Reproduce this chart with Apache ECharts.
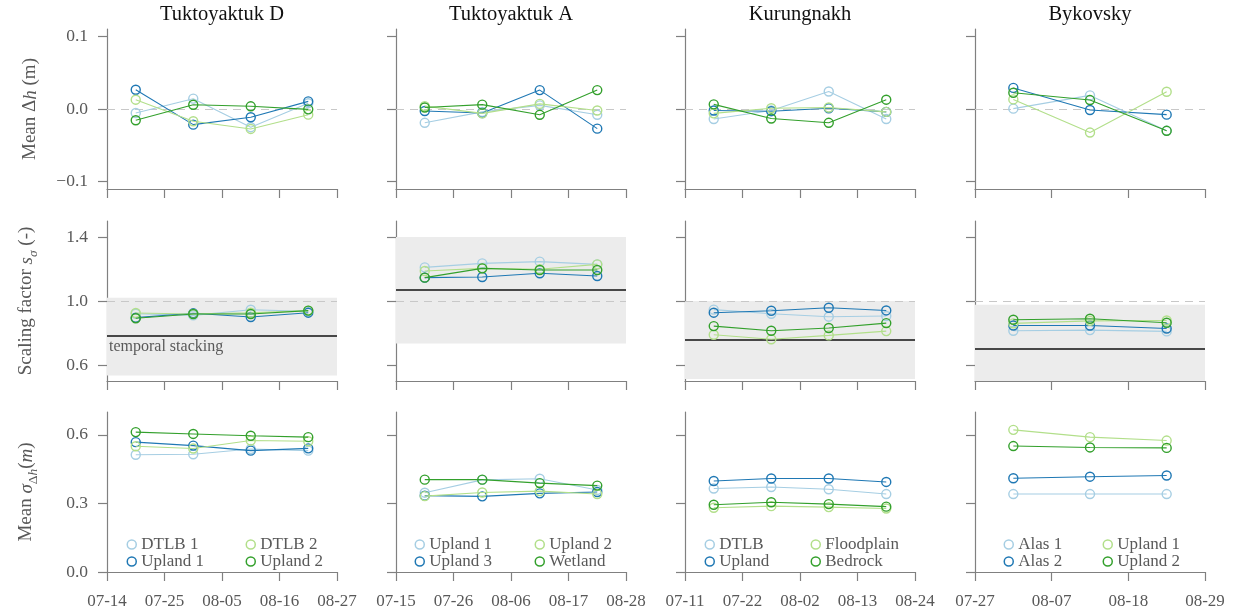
<!DOCTYPE html>
<html><head><meta charset="utf-8">
<script src="https://cdn.jsdelivr.net/npm/echarts@6/dist/echarts.min.js"></script>
<style>html,body{margin:0;padding:0;background:#fff}#c{width:1236px;height:614px}</style>
</head><body><div id="c"></div>
<script>
// ---------------- DATA ----------------
const siteNames = ['Tuktoyaktuk D', 'Tuktoyaktuk A', 'Kurungnakh', 'Bykovsky'];
const axisStartDates = ['2019-07-14', '2019-07-15', '2019-07-11', '2019-07-27'];
const axisSpanDays = [44, 44, 44, 33];
const tickStepDays = 11;

// class order: [light blue, dark blue, light green, dark green]
const classesTukD = ['DTLB 1', 'Upland 1', 'DTLB 2', 'Upland 2'];
const classesTukA = ['Upland 1', 'Upland 3', 'Upland 2', 'Wetland'];
const classesKur  = ['DTLB', 'Upland', 'Floodplain', 'Bedrock'];
const classesByk  = ['Alas 1', 'Alas 2', 'Upland 1', 'Upland 2'];

const datesTukD = ['2019-07-19T12:00', '2019-07-30T12:00', '2019-08-10T12:00', '2019-08-21T12:00'];
const datesTukA = ['2019-07-20T12:00', '2019-07-31T12:00', '2019-08-11T12:00', '2019-08-22T12:00'];
const datesKur  = ['2019-07-16T12:00', '2019-07-27T12:00', '2019-08-07T12:00', '2019-08-18T12:00'];
const datesByk  = ['2019-08-01T12:00', '2019-08-12T12:00', '2019-08-23T12:00'];

// Mean Δh (m)
const meanDhTukD = [[-0.0055, 0.0142, -0.025, 0.008], [0.0265, -0.0215, -0.0114, 0.0105], [0.0128, -0.0169, -0.0274, -0.0078], [-0.0155, 0.0059, 0.0037, -0.0005]];
const meanDhTukA = [[-0.019, -0.004, 0.005, -0.008], [-0.0027, -0.0055, 0.026, -0.027], [0.004, -0.006, 0.007, -0.002], [0.002, 0.006, -0.008, 0.026]];
const meanDhKur  = [[-0.0137, -0.002, 0.024, -0.0137], [-0.002, -0.003, 0.001, -0.004], [-0.006, 0.001, 0.002, -0.004], [0.0064, -0.013, -0.019, 0.0128]];
const meanDhByk  = [[0.0005, 0.0187, -0.030], [0.029, -0.0014, -0.0078], [0.0132, -0.0324, 0.0237], [0.0224, 0.0123, -0.030]];

// Scaling factor s_sigma (-)
const scaleTukD = [[0.92, 0.91, 0.945, 0.935], [0.896, 0.923, 0.90, 0.927], [0.925, 0.919, 0.927, 0.94], [0.892, 0.919, 0.919, 0.94]];
const scaleTukA = [[1.21, 1.235, 1.246, 1.229], [1.146, 1.15, 1.173, 1.156], [1.1875, 1.204, 1.198, 1.229], [1.146, 1.204, 1.194, 1.194]];
const scaleKur  = [[0.946, 0.92, 0.902, 0.906], [0.927, 0.939, 0.958, 0.941], [0.789, 0.761, 0.785, 0.812], [0.843, 0.814, 0.831, 0.862]];
const scaleByk  = [[0.814, 0.818, 0.81], [0.847, 0.847, 0.828], [0.86, 0.876, 0.878], [0.883, 0.889, 0.864]];

// temporal stacking reference (line, band low, band high)
const stackingFactor = [0.777, 1.067, 0.756, 0.702];
const stackingLow    = [0.534, 0.735, 0.512, 0.50];
const stackingHigh   = [1.02, 1.40, 1.00, 0.977];

// Mean sigma_Δh (m)
const sigmaTukD = [[0.513, 0.515, 0.538, 0.531], [0.568, 0.553, 0.531, 0.541], [0.55, 0.54, 0.575, 0.572], [0.612, 0.604, 0.596, 0.590]];
const sigmaTukA = [[0.347, 0.403, 0.408, 0.359], [0.334, 0.331, 0.344, 0.35], [0.332, 0.348, 0.354, 0.341], [0.404, 0.404, 0.389, 0.378]];
const sigmaKur  = [[0.365, 0.372, 0.362, 0.341], [0.398, 0.409, 0.409, 0.394], [0.281, 0.288, 0.284, 0.278], [0.294, 0.305, 0.297, 0.286]];
const sigmaByk  = [[0.341, 0.341, 0.341], [0.41, 0.417, 0.422], [0.622, 0.59, 0.575], [0.551, 0.545, 0.543]];

const yTicksDh = [-0.1, 0.0, 0.1];
const yTicksScale = [0.6, 1.0, 1.4];
const yTicksSigma = [0.0, 0.3, 0.6];

// ---------------- BUILD ----------------
const classColors = ['#a6cee3', '#1f78b4', '#b2df8a', '#33a02c'];
const SERIF = '"Liberation Serif", "DejaVu Serif", serif';
const TXT = '#595959';
const AX = '#808080';
const DAY = 86400000;
const toMs = s => Date.parse(s.length <= 10 ? s + 'T00:00:00Z' : s + ':00Z');
const mmdd = ms => { const d = new Date(ms); return String(d.getUTCMonth() + 1).padStart(2, '0') + '-' + String(d.getUTCDate()).padStart(2, '0'); };

const classes = [classesTukD, classesTukA, classesKur, classesByk];
const dates = [datesTukD, datesTukA, datesKur, datesByk];
const rowsData = [
  [meanDhTukD, meanDhTukA, meanDhKur, meanDhByk],
  [scaleTukD, scaleTukA, scaleKur, scaleByk],
  [sigmaTukD, sigmaTukA, sigmaKur, sigmaByk]
];
const rowCfg = [
  { min: -0.11, max: 0.11, ticks: yTicksDh, name: 'Mean Δ{it|h} (m)' },
  { min: 0.5, max: 1.5, ticks: yTicksScale, name: 'Scaling factor {it|s}{subit|σ} (-)' },
  { min: 0.0, max: 0.7, ticks: yTicksSigma, name: 'Mean {it|σ}{sub|Δ}{subit|h}({it|m})' }
];
const gridLeft = [107, 396, 685, 975];
const gridTop = [29, 221, 412];
const GW = 230, GH = 160;
const legendOffsets = [[24, 143], [23, 143], [24, 130], [33, 132]];

const grid = [], xAxis = [], yAxis = [], series = [], legend = [], graphic = [];
const fmtY = v => (v < 0 ? '\u2212' : '') + Math.abs(v).toFixed(1);

for (let r = 0; r < 3; r++) {
  for (let c = 0; c < 4; c++) {
    const gi = r * 4 + c;
    grid.push({ left: gridLeft[c], top: gridTop[r], width: GW, height: GH, containLabel: false });
    const startMs = toMs(axisStartDates[c]);
    xAxis.push({
      type: 'value', gridIndex: gi, min: 0, max: axisSpanDays[c], interval: tickStepDays,
      axisLine: { show: true, onZero: false, lineStyle: { color: AX, width: 1.2 } },
      axisTick: { show: true, length: 9, lineStyle: { color: AX, width: 1.2 } },
      axisLabel: { show: r === 2, margin: 21, color: TXT, fontFamily: SERIF, fontSize: 17,
                   formatter: v => mmdd(startMs + v * DAY), showMinLabel: true, showMaxLabel: true },
      splitLine: { show: false }
    });
    const cfg = rowCfg[r];
    yAxis.push({
      type: 'value', gridIndex: gi, min: cfg.min, max: cfg.max,
      axisLine: { show: true, onZero: false, lineStyle: { color: AX, width: 1.2 } },
      axisTick: { show: true, length: 9, customValues: cfg.ticks, lineStyle: { color: AX, width: 1.2 } },
      axisLabel: { show: c === 0, margin: 19, color: TXT, fontFamily: SERIF, fontSize: 17.5,
                   customValues: cfg.ticks, formatter: fmtY },
      splitLine: { show: false },
      name: c === 0 ? cfg.name : '',
      nameLocation: 'middle', nameGap: 67, nameRotate: 90,
      nameTextStyle: {
        color: TXT, fontFamily: SERIF, fontSize: 19,
        rich: {
          it: { fontStyle: 'italic', color: TXT, fontFamily: SERIF, fontSize: 19 },
          sub: { color: TXT, fontFamily: SERIF, fontSize: 13.5, verticalAlign: 'bottom', lineHeight: 27 },
          subit: { fontStyle: 'italic', color: TXT, fontFamily: SERIF, fontSize: 13.5, verticalAlign: 'bottom', lineHeight: 27 }
        }
      }
    });
    const vals = rowsData[r][c];
    for (let k = 0; k < 4; k++) {
      const col = classColors[k];
      const s = {
        type: 'line', name: siteNames[c] + '|' + classes[c][k],
        xAxisIndex: gi, yAxisIndex: gi,
        data: dates[c].map((d, i) => [(toMs(d) - startMs) / DAY, vals[k][i]]),
        symbol: 'circle', symbolSize: 9, showSymbol: true,
        lineStyle: { color: col, width: 1.1 },
        itemStyle: { color: 'rgba(255,255,255,0)', borderColor: col, borderWidth: 1.4 },
        emphasis: { disabled: true }, silent: true, animation: false, z: 2 + k * 0.01
      };
      if (k === 0) {
        if (r === 0) {
          s.markLine = { silent: true, symbol: ['none', 'none'], animation: false, z: 1,
            label: { show: false },
            lineStyle: { color: '#c8c8c8', type: [8, 6], width: 1 },
            data: [{ yAxis: 0 }] };
        }
        if (r === 1) {
          s.markArea = { silent: true, animation: false,
            itemStyle: { color: '#ececec' },
            data: [[{ yAxis: stackingLow[c] }, { yAxis: stackingHigh[c] }]] };
          s.markLine = { silent: true, symbol: ['none', 'none'], animation: false, z: 1,
            data: [
              { yAxis: 1.0, lineStyle: { color: '#c8c8c8', type: [8, 6], width: 1 }, label: { show: false } },
              { yAxis: stackingFactor[c], lineStyle: { color: '#111', type: 'solid', width: 1.5 },
                label: { show: c === 0, position: 'insideStartBottom', formatter: 'temporal stacking',
                         color: TXT, fontFamily: SERIF, fontSize: 16, distance: [2, 3] } }
            ] };
        }
      }
      series.push(s);
    }
  }
}

for (let c = 0; c < 4; c++) {
  for (let j = 0; j < 2; j++) {
    const ks = j === 0 ? [0, 1] : [2, 3];
    legend.push({
      orient: 'vertical', left: gridLeft[c] + legendOffsets[c][j] - 4.5, top: 536, padding: 0,
      itemWidth: 9, itemHeight: 9, itemGap: 0, selectedMode: false,
      formatter: n => n.split('|')[1],
      textStyle: { color: TXT, fontFamily: SERIF, fontSize: 17, lineHeight: 17 },
      data: ks.map(k => ({ name: siteNames[c] + '|' + classes[c][k], icon: 'circle',
        itemStyle: { color: 'rgba(255,255,255,0)', borderColor: classColors[k], borderWidth: 1.5 } }))
    });
  }
  graphic.push({ type: 'text', x: gridLeft[c] + GW / 2, y: 15,
    style: { text: siteNames[c], fill: '#111', font: '20.5px ' + SERIF, align: 'center', verticalAlign: 'middle',
             textAlign: 'center', textVerticalAlign: 'middle' } });
}

const chart = echarts.init(document.getElementById('c'), null, { renderer: 'canvas' });
chart.setOption({ animation: false, backgroundColor: '#fff', grid, xAxis, yAxis, series, legend, graphic });
</script></body></html>
